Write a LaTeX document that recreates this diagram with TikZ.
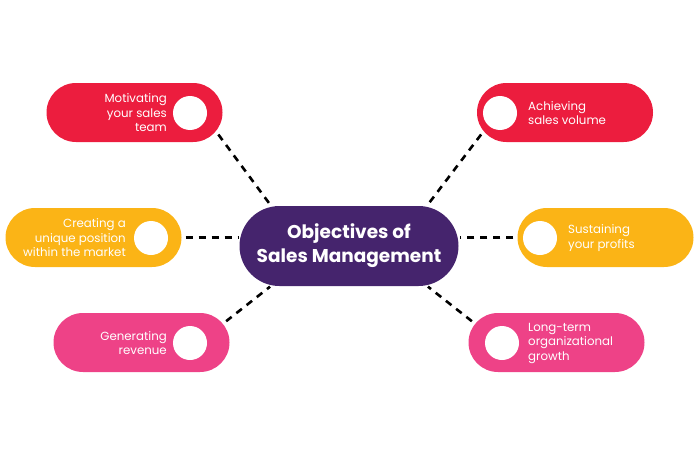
\documentclass[tikz,border=0pt]{standalone}
\usepackage{fontspec}
\setmainfont{Poppins}
\usetikzlibrary{shapes.misc}
\definecolor{cred}{HTML}{EC1D3E}
\definecolor{cyel}{HTML}{FBB416}
\definecolor{cpink}{HTML}{EE4287}
\definecolor{cpurp}{HTML}{45246D}
\begin{document}
\begin{tikzpicture}[x=1pt,y=-1pt,
  pill/.style={rounded rectangle, minimum width=176pt, minimum height=59pt, inner sep=0pt},
  dot/.style={circle, fill=white, minimum size=34pt, inner sep=0pt},
  ltxt/.style={align=right, anchor=east, text=white, font=\fontsize{11.8}{14.5}\selectfont, inner sep=0pt},
  rtxt/.style={align=left, anchor=west, text=white, font=\fontsize{11.8}{14.5}\selectfont, inner sep=0pt},
  conn/.style={draw=black, line width=2.6pt, dash pattern=on 7pt off 6pt}]
\useasboundingbox (0,0) rectangle (698,460);
% center
\node[rounded rectangle, fill=cpurp, minimum width=219pt, minimum height=80pt, inner sep=0pt,
  text=white, align=center, font=\fontsize{18.5}{24}\selectfont\bfseries] (c) at (349,246)
  {Objectives of\\Sales Management};
% left pills
\node[pill, fill=cred] (tl) at (134.5,112.5) {};
\node[dot] (tld) at (190,113) {};
\node[ltxt] (tlt) at (167,113) {Motivating\\your sales\\team};
\node[pill, fill=cyel] (ml) at (93.5,237.5) {};
\node[dot] (mld) at (151,238) {};
\node[ltxt] (mlt) at (126,238) {Creating a\\unique position\\within the market};
\node[pill, fill=cpink] (bl) at (141.5,342.5) {};
\node[dot] (bld) at (190,343) {};
\node[ltxt] (blt) at (167,343) {Generating\\revenue};
% right pills
\node[pill, fill=cred] (tr) at (565,112.5) {};
\node[dot] (trd) at (500,113) {};
\node[rtxt] (trt) at (528,113) {Achieving\\sales volume};
\node[pill, fill=cyel] (mr) at (605.5,237.5) {};
\node[dot] (mrd) at (540,238) {};
\node[rtxt] (mrt) at (568,238) {Sustaining\\your profits};
\node[pill, fill=cpink] (br) at (556.5,342.5) {};
\node[dot] (brd) at (502,343) {};
\node[rtxt] (brt) at (528,343) {Long-term\\organizational\\growth};
% connectors
\draw[conn, shorten <=4pt, shorten >=2pt] (tl.-13) -- (c.153);
\draw[conn, shorten <=4pt, shorten >=1pt] (ml.east) -- (ml.east -| c.west);
\draw[conn, shorten <=4pt, shorten >=2pt] (bl.13) -- (c.-153);
\draw[conn, shorten <=4pt, shorten >=2pt] (tr.193) -- (c.27);
\draw[conn, shorten <=4pt, shorten >=1pt] (mr.west) -- (mr.west -| c.east);
\draw[conn, shorten <=4pt, shorten >=2pt] (br.167) -- (c.-27);
\end{tikzpicture}
\end{document}
